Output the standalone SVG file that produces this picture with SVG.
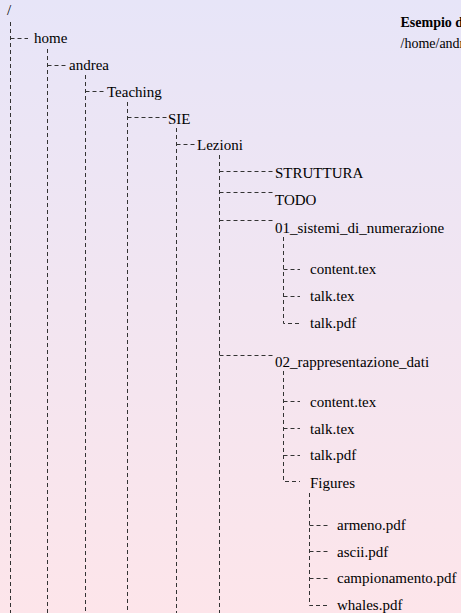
<svg xmlns="http://www.w3.org/2000/svg" width="461" height="613" viewBox="0 0 461 613">
<defs>
<linearGradient id="bg" x1="0" y1="0" x2="0" y2="1">
<stop offset="0" stop-color="#e7e5f8"/>
<stop offset="1" stop-color="#fde5ea"/>
</linearGradient>
</defs>
<style>
text{font-family:"Liberation Serif","Times New Roman",serif;font-size:15px;fill:#000}
.hdr{font-size:14px}
.b{font-weight:bold}
.c{fill:none;stroke:#333;stroke-width:1;stroke-dasharray:4 3}
</style>
<rect width="461" height="613" fill="url(#bg)"/>
<g id="connectors">
<path class="c" d="M10.5 22V613"/>
<path class="c" d="M47.5 49V613"/>
<path class="c" d="M85.5 75V613"/>
<path class="c" d="M127.5 102V613"/>
<path class="c" d="M176.5 128V613"/>
<path class="c" d="M219.5 155V613"/>
<path class="c" d="M283.5 237V323.5H300"/>
<path class="c" d="M283.5 371V481.5H300"/>
<path class="c" d="M309.5 493V605.5H328"/>
<path class="c" d="M10.5 38.5H28"/>
<path class="c" d="M47.5 65.5H66"/>
<path class="c" d="M85.5 91.5H105"/>
<path class="c" d="M127.5 117.5H166.5"/>
<path class="c" d="M176.5 144.5H195"/>
<path class="c" d="M219.5 171.5H273"/>
<path class="c" d="M219.5 192.5H273"/>
<path class="c" d="M219.5 220.5H273"/>
<path class="c" d="M219.5 355.5H273"/>
<path class="c" d="M283.5 269.5H300"/>
<path class="c" d="M283.5 296.5H300"/>
<path class="c" d="M283.5 401.5H300"/>
<path class="c" d="M283.5 428.5H300"/>
<path class="c" d="M283.5 455.5H300"/>
<path class="c" d="M309.5 525.5H328"/>
<path class="c" d="M309.5 551.5H328"/>
<path class="c" d="M309.5 578.5H328"/>
</g>
<g id="root"><text x="7" y="15">/</text></g>
<g id="home"><text x="34" y="43">home</text></g>
<g id="andrea"><text x="69" y="70">andrea</text></g>
<g id="teaching"><text x="107" y="97">Teaching</text></g>
<g id="sie"><text x="168" y="123.5">SIE</text></g>
<g id="lezioni"><text x="197" y="150">Lezioni</text></g>
<g id="struttura"><text x="275" y="178">STRUTTURA</text></g>
<g id="todo"><text x="275" y="205">TODO</text></g>
<g id="sistemi"><text x="275" y="232.5">01_sistemi_di_numerazione</text></g>
<g id="s_content"><text x="310" y="274">content.tex</text></g>
<g id="s_talktex"><text x="310" y="300.5">talk.tex</text></g>
<g id="s_talkpdf"><text x="310" y="327.5">talk.pdf</text></g>
<g id="rappresentazione"><text x="275" y="366.5">02_rappresentazione_dati</text></g>
<g id="r_content"><text x="310" y="406.5">content.tex</text></g>
<g id="r_talktex"><text x="310" y="433.5">talk.tex</text></g>
<g id="r_talkpdf"><text x="310" y="460">talk.pdf</text></g>
<g id="figures"><text x="310" y="487.5">Figures</text></g>
<g id="armeno"><text x="337" y="530">armeno.pdf</text></g>
<g id="ascii"><text x="337" y="556.5">ascii.pdf</text></g>
<g id="campionamento"><text x="337" y="583">campionamento.pdf</text></g>
<g id="whales"><text x="337" y="610">whales.pdf</text></g>
<g id="caption">
<text class="hdr b" x="400.5" y="27">Esempio di</text>
<text class="hdr" x="400.5" y="48">/home/andrea</text>
</g>
</svg>
